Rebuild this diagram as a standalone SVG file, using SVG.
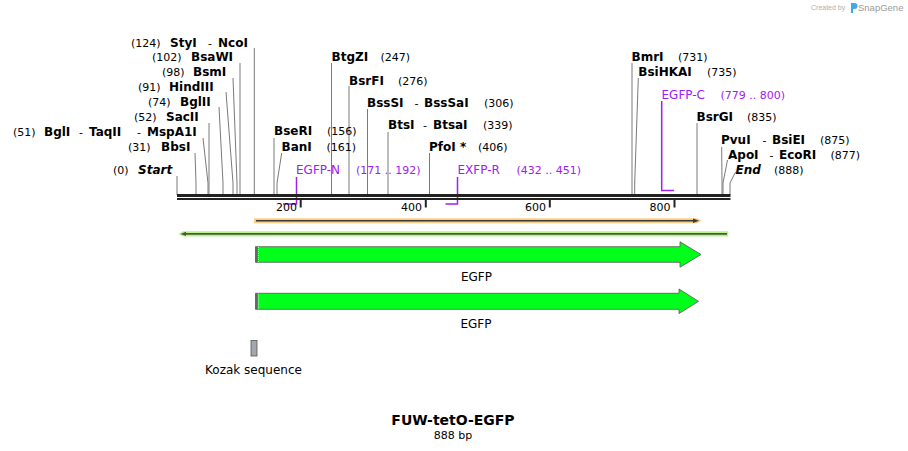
<svg xmlns="http://www.w3.org/2000/svg" width="908" height="451" viewBox="0 0 908 451">
<style>
text{font-family:"DejaVu Sans",Verdana,sans-serif;fill:#000}
.n{font-size:11px}
.b{font-size:12px;font-weight:bold}
.bi{font-size:12px;font-weight:bold;font-style:italic}
.p{font-size:12px;fill:#a020f0}
.pn{font-size:11px;fill:#a020f0}
.lead{fill:none;stroke:#7a7a7a;stroke-width:1}
.prim{fill:none;stroke:#a020f0;stroke-width:1.5}
.tick{stroke:#222;stroke-width:2}
.lbl{font-size:12px}
.arrow{fill:#00ff1a;stroke:#555;stroke-width:0.8}
</style>
<rect width="908" height="451" fill="#fff"/>

<g id="watermark">
<text x="811" y="10" style="font-family:'Liberation Sans',Arial,sans-serif;font-size:7px;fill:#b0b0b0">Created by</text>
<path d="M851 3h3.5a3 3 0 0 1 0 6h-1.5v4h-2z" fill="#3fa9e8"/>
<text x="858" y="11" style="font-family:'Liberation Sans',Arial,sans-serif;font-size:9.5px;fill:#9a9a9a">SnapGene</text>
</g>

<g id="connectors">
<path class="lead" d="M254.3 48V195"/>
<path class="lead" d="M240 63V195"/>
<path class="lead" d="M233 78L237 183V195"/>
<path class="lead" d="M226 92L233 183V195"/>
<path class="lead" d="M219 107L223 183V195"/>
<path class="lead" d="M209 123V195"/>
<path class="lead" d="M203 138L208 183V195"/>
<path class="lead" d="M195 153L196 183V195"/>
<path class="lead" d="M177 176V195"/>
<path class="lead" d="M274 138V195"/>
<path class="lead" d="M281.7 153L277 183V195"/>
<path class="lead" d="M331.5 63V195"/>
<path class="lead" d="M349 86V195"/>
<path class="lead" d="M367.5 109V195"/>
<path class="lead" d="M388 132V195"/>
<path class="lead" d="M429.5 153V195"/>
<path class="lead" d="M632 63V195"/>
<path class="lead" d="M638.3 78L634.7 183V195"/>
<path class="lead" d="M697 123V195"/>
<path class="lead" d="M721.7 147L722 183V195"/>
<path class="lead" d="M727.5 160L723 183V195"/>
<path class="lead" d="M735.5 172L730 183V195"/>
<path class="prim" d="M296.5 177V204H283"/>
<path class="prim" d="M457.5 177V204H445.5"/>
<path class="prim" d="M661.7 101V190.5H674"/>
</g>

<g id="backbone">
<rect x="177" y="194" width="553.5" height="3" fill="#222"/>
<rect x="177" y="198" width="553.5" height="2" fill="#222"/>
<line class="tick" x1="300.7" y1="199" x2="300.7" y2="207.5"/>
<line class="tick" x1="425.8" y1="199" x2="425.8" y2="207.5"/>
<line class="tick" x1="549.8" y1="199" x2="549.8" y2="207.5"/>
<line class="tick" x1="674.5" y1="199" x2="674.5" y2="207.5"/>
<text class="n" x="297" y="211" text-anchor="end">200</text>
<text class="n" x="422" y="211" text-anchor="end">400</text>
<text class="n" x="546" y="211" text-anchor="end">600</text>
<text class="n" x="670.5" y="211" text-anchor="end">800</text>
</g>

<g id="enz-styi"><text y="47"><tspan class="n" x="131">(124)</tspan><tspan class="b" x="170">StyI</tspan><tspan class="n" x="208">-</tspan><tspan class="b" x="218">NcoI</tspan></text></g>
<g id="enz-bsawi"><text y="61"><tspan class="n" x="152">(102)</tspan><tspan class="b" x="191">BsaWI</tspan></text></g>
<g id="enz-bsmi"><text y="76"><tspan class="n" x="162">(98)</tspan><tspan class="b" x="193">BsmI</tspan></text></g>
<g id="enz-hindiii"><text y="91"><tspan class="n" x="138">(91)</tspan><tspan class="b" x="169">HindIII</tspan></text></g>
<g id="enz-bglii"><text y="106"><tspan class="n" x="148">(74)</tspan><tspan class="b" x="180">BglII</tspan></text></g>
<g id="enz-sacii"><text y="121"><tspan class="n" x="134">(52)</tspan><tspan class="b" x="166">SacII</tspan></text></g>
<g id="enz-bgli"><text y="136"><tspan class="n" x="13">(51)</tspan><tspan class="b" x="44">BglI</tspan><tspan class="n" x="79">-</tspan><tspan class="b" x="89">TaqII</tspan><tspan class="n" x="137">-</tspan><tspan class="b" x="147">MspA1I</tspan></text></g>
<g id="enz-bbsi"><text y="151"><tspan class="n" x="128">(31)</tspan><tspan class="b" x="161">BbsI</tspan></text></g>
<g id="enz-start"><text y="173.5"><tspan class="n" x="113">(0)</tspan><tspan class="bi" x="138">Start</tspan></text></g>

<g id="enz-btgzi"><text y="61"><tspan class="b" x="331.5">BtgZI</tspan><tspan class="n" x="380.5">(247)</tspan></text></g>
<g id="enz-bsrfi"><text y="84.5"><tspan class="b" x="349">BsrFI</tspan><tspan class="n" x="398">(276)</tspan></text></g>
<g id="enz-bsssi"><text y="106.5"><tspan class="b" x="367">BssSI</tspan><tspan class="n" x="414.5">-</tspan><tspan class="b" x="424">BssSaI</tspan><tspan class="n" x="484">(306)</tspan></text></g>
<g id="enz-btsi"><text y="129"><tspan class="b" x="388">BtsI</tspan><tspan class="n" x="423">-</tspan><tspan class="b" x="433">BtsaI</tspan><tspan class="n" x="483">(339)</tspan></text></g>
<g id="enz-bseri"><text y="135"><tspan class="b" x="274">BseRI</tspan><tspan class="n" x="327">(156)</tspan></text></g>
<g id="enz-bani"><text y="151"><tspan class="b" x="281.5">BanI</tspan><tspan class="n" x="326.5">(161)</tspan></text></g>
<g id="enz-pfoi"><text y="151"><tspan class="b" x="429">PfoI *</tspan><tspan class="n" x="478">(406)</tspan></text></g>
<g id="primer-egfpn"><text y="173.5"><tspan class="p" x="296">EGFP-N</tspan><tspan class="pn" x="356">(171 .. 192)</tspan></text></g>
<g id="primer-exfpr"><text y="173.5"><tspan class="p" x="457.5">EXFP-R</tspan><tspan class="pn" x="516.5">(432 .. 451)</tspan></text></g>

<g id="enz-bmri"><text y="60.5"><tspan class="b" x="631.5">BmrI</tspan><tspan class="n" x="678">(731)</tspan></text></g>
<g id="enz-bsihkai"><text y="76"><tspan class="b" x="638.3">BsiHKAI</tspan><tspan class="n" x="707">(735)</tspan></text></g>
<g id="primer-egfpc"><text y="98.5"><tspan class="p" x="661.5">EGFP-C</tspan><tspan class="pn" x="720.5">(779 .. 800)</tspan></text></g>
<g id="enz-bsrgi"><text y="121"><tspan class="b" x="696.5">BsrGI</tspan><tspan class="n" x="747">(835)</tspan></text></g>
<g id="enz-pvui"><text y="143.5"><tspan class="b" x="721">PvuI</tspan><tspan class="n" x="762.5">-</tspan><tspan class="b" x="772">BsiEI</tspan><tspan class="n" x="820">(875)</tspan></text></g>
<g id="enz-apoi"><text y="159"><tspan class="b" x="728">ApoI</tspan><tspan class="n" x="769.5">-</tspan><tspan class="b" x="779">EcoRI</tspan><tspan class="n" x="830.5">(877)</tspan></text></g>
<g id="enz-end"><text y="173.5"><tspan class="bi" x="735.5">End</tspan><tspan class="n" x="774">(888)</tspan></text></g>

<g id="feature-orange">
<path d="M254 218.3H697L701.5 220.8L697 223.3H254Z" fill="#fbcd80"/>
<line x1="256" y1="220.8" x2="695" y2="220.8" stroke="#3a3a3a" stroke-width="1.6"/>
<path d="M693 218.6L699 220.8L693 223Z" fill="#3a3a3a"/>
</g>

<g id="feature-green">
<path d="M183 231.2H728.3V236.6H183L178.3 233.9Z" fill="#b8f28c"/>
<line x1="184" y1="233.9" x2="727" y2="233.9" stroke="#4a5a40" stroke-width="1.6"/>
<path d="M186 231.7L180.5 233.9L186 236.1Z" fill="#4a5a40"/>
</g>

<g id="egfp1">
<path class="arrow" d="M255.5 246.7H680V241.8L701 254.5L680 267.2V262.3H255.5Z"/>
<rect x="255.5" y="246.7" width="2.5" height="15.6" fill="#666"/>
<line x1="258.3" y1="247" x2="258.3" y2="262" stroke="#fff" stroke-width="0.8" stroke-dasharray="1 1"/>
<text class="lbl" x="476.5" y="280.5" text-anchor="middle">EGFP</text>
</g>

<g id="egfp2">
<path class="arrow" d="M255.5 293.3H679V289L698.5 301.3L679 313.6V309.3H255.5Z"/>
<rect x="255.5" y="293.3" width="2.5" height="16" fill="#666"/>
<line x1="258.3" y1="293.6" x2="258.3" y2="309" stroke="#fff" stroke-width="0.8" stroke-dasharray="1 1"/>
<text class="lbl" x="476" y="327.5" text-anchor="middle">EGFP</text>
</g>

<g id="kozak">
<rect x="251" y="340.5" width="6" height="15.5" fill="#a3a7ae" stroke="#555" stroke-width="0.8"/>
<text class="lbl" x="253.5" y="374" text-anchor="middle">Kozak sequence</text>
</g>

<g id="title">
<text x="453" y="424.5" text-anchor="middle" style="font-size:14px;font-weight:bold">FUW-tetO-EGFP</text>
<text x="453" y="439" text-anchor="middle" style="font-size:11px">888 bp</text>
</g>
</svg>
